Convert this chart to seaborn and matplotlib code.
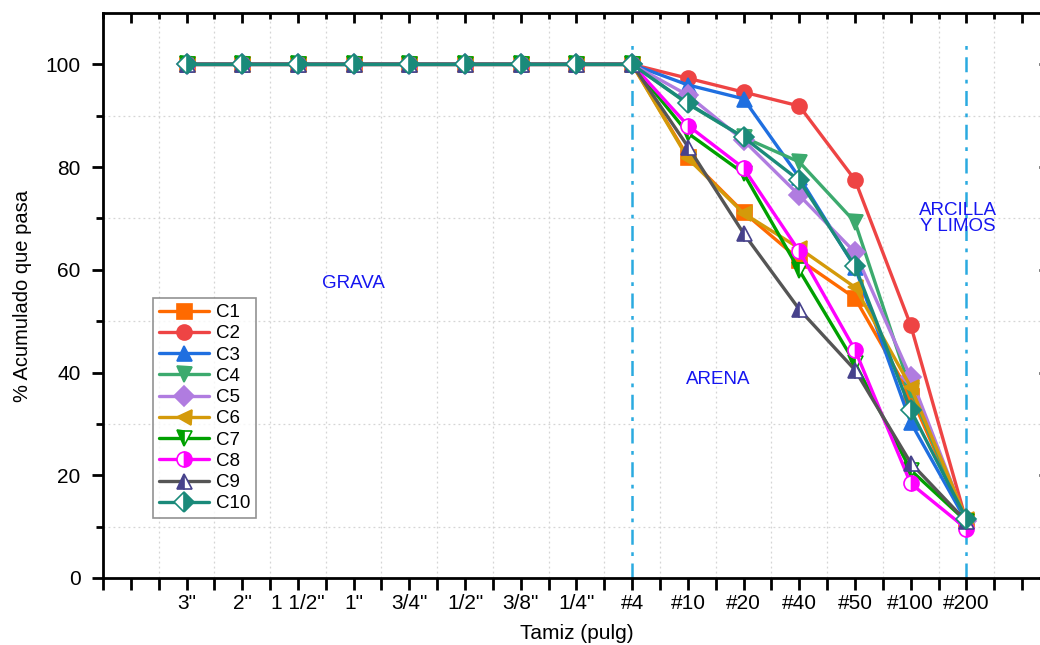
import numpy as np
import pandas as pd
import matplotlib
matplotlib.use("Agg")
import matplotlib.pyplot as plt
from matplotlib.ticker import FixedLocator
import seaborn as sns

# Sieve sizes (x categories)
tamices = ['3"', '2"', '1 1/2"', '1"', '3/4"', '1/2"', '3/8"', '1/4"',
           '#4', '#10', '#20', '#40', '#50', '#100', '#200']

# Percent passing for each sample (coarse sieves all at 100 %)
grueso = [100, 100, 100, 100, 100, 100, 100, 100, 100]
C1 = grueso + [82.0, 71.2, 62.0, 54.5, 35.5, 11.0]
C2 = grueso + [97.3, 94.6, 91.9, 77.5, 49.2, 11.0]
C3 = grueso + [96.0, 93.3, 78.0, 60.5, 30.3, 11.0]
C4 = grueso + [92.3, 85.8, 81.0, 69.3, 36.6, 11.0]
C5 = grueso + [94.0, 85.2, 74.5, 63.4, 39.1, 11.0]
C6 = grueso + [81.7, 71.0, 64.2, 56.6, 37.2, 11.5]
C7 = grueso + [86.6, 78.8, 59.9, 41.8, 21.0, 11.0]
C8 = grueso + [88.1, 79.8, 63.6, 44.4, 18.4, 9.6]
C9 = grueso + [84.0, 67.1, 52.3, 40.5, 22.4, 11.0]
C10 = grueso + [92.4, 85.8, 77.4, 60.7, 32.7, 11.5]

series = {"C1": C1, "C2": C2, "C3": C3, "C4": C4, "C5": C5,
          "C6": C6, "C7": C7, "C8": C8, "C9": C9, "C10": C10}

# line colour, marker colour, marker, fill style
estilos = {
    "C1": ("#FF6A00", "#FF6A00", "s", "full"),
    "C2": ("#EE4444", "#EE4444", "o", "full"),
    "C3": ("#1F6FE0", "#1F6FE0", "^", "full"),
    "C4": ("#3CAA6E", "#3CAA6E", "v", "full"),
    "C5": ("#B07CE0", "#B07CE0", "D", "full"),
    "C6": ("#D49A0A", "#D49A0A", "<", "full"),
    "C7": ("#00A000", "#00A000", "v", "left"),
    "C8": ("#FF00FF", "#FF00FF", "o", "right"),
    "C9": ("#555555", "#47428C", "^", "left"),
    "C10": ("#1A8A7A", "#1A8A7A", "D", "right"),
}

sns.set_style("white")
plt.rcParams["font.family"] = ["Liberation Sans", "DejaVu Sans"]
plt.rcParams.update({"text.color": "black", "axes.labelcolor": "black",
                     "xtick.color": "black", "ytick.color": "black"})

fig = plt.figure(figsize=(10.4, 6.45), dpi=100)
ax = fig.add_axes([0.099, 0.1039, 0.9106, 0.8759])

pos = np.arange(len(tamices))
for nombre, valores in series.items():
    lc, mc, mk, fs = estilos[nombre]
    ms = 9.8 if mk == "D" else 10.8
    sns.lineplot(x=pos, y=valores, ax=ax, color=lc, linewidth=2.4,
                 marker=mk, markersize=ms, fillstyle=fs,
                 markerfacecolor=mc, markerfacecoloralt="white",
                 markeredgecolor=mc, markeredgewidth=1.2,
                 label=nombre, sort=False, zorder=3)

# Boundaries between gravel, sand and fines
for xv in (8, 14):
    ax.plot([xv, xv], [0, 104], color="#2AAAE0", linewidth=1.8,
            linestyle=(0, (6, 3, 1.5, 3)), zorder=2)

azul = "#1515F0"
ax.text(3, 57.3, "GRAVA", color=azul, fontsize=13.5, ha="center", va="center")
ax.text(9.55, 38.6, "ARENA", color=azul, fontsize=13.5, ha="center", va="center")
ax.text(13.85, 70.0, "ARCILLA\nY LIMOS", color=azul, fontsize=13.5,
        ha="center", va="center", linespacing=0.9)

ax.set_xlim(-1.5, 15.5)
ax.set_ylim(0, 110)

ax.xaxis.set_major_locator(FixedLocator(np.arange(-1, 16)))
ax.xaxis.set_minor_locator(FixedLocator(np.arange(-1.5, 16, 1.0)))
ax.set_xticklabels([""] + tamices + [""], fontsize=15)

ax.yaxis.set_major_locator(FixedLocator([0, 20, 40, 60, 80, 100]))
ax.yaxis.set_minor_locator(FixedLocator([10, 30, 50, 70, 90]))
for t in ax.get_yticklabels():
    t.set_fontsize(15)

ax.tick_params(axis="x", which="major", direction="out", length=8.5, width=2,
               bottom=True, top=True, labeltop=False, pad=3)
ax.tick_params(axis="x", which="minor", direction="out", length=8.5, width=2,
               bottom=True, top=True)
ax.tick_params(axis="y", which="major", direction="out", length=8, width=2,
               left=True, right=True, labelright=False, pad=8)
ax.tick_params(axis="y", which="minor", direction="out", length=5, width=2,
               left=True, right=True)

# mirrored top/right ticks point into the plot
for tl in ax.xaxis.get_ticklines(minor=False)[1::2]:
    tl.set_marker(3)
    tl.set_markersize(7.5)
for tl in ax.xaxis.get_ticklines(minor=True)[1::2]:
    tl.set_marker(3)
    tl.set_markersize(4)
for tl in ax.yaxis.get_ticklines(minor=False)[1::2]:
    tl.set_marker(0)
    tl.set_markersize(8)
for tl in ax.yaxis.get_ticklines(minor=True)[1::2]:
    tl.set_marker(0)
    tl.set_markersize(4)

for sp in ax.spines.values():
    sp.set_linewidth(2)
    sp.set_color("black")

ax.grid(which="minor", linestyle=(0, (1.5, 2.5)), color="#d5d5d5", linewidth=0.9)
ax.grid(which="major", visible=False)

ax.set_xlabel("Tamiz (pulg)", fontsize=15, labelpad=8)
ax.set_ylabel("% Acumulado que pasa", fontsize=14.5, labelpad=10)

leg = ax.legend(loc="upper left", bbox_to_anchor=(0.053, 0.495),
                fontsize=13.5, frameon=True, fancybox=False, handlelength=2.7,
                handletextpad=0.35, labelspacing=0.22, borderpad=0.3,
                borderaxespad=0, numpoints=1)
leg.get_frame().set_edgecolor("#777777")
leg.get_frame().set_linewidth(1.2)

fig.savefig("out.png", dpi=100)
